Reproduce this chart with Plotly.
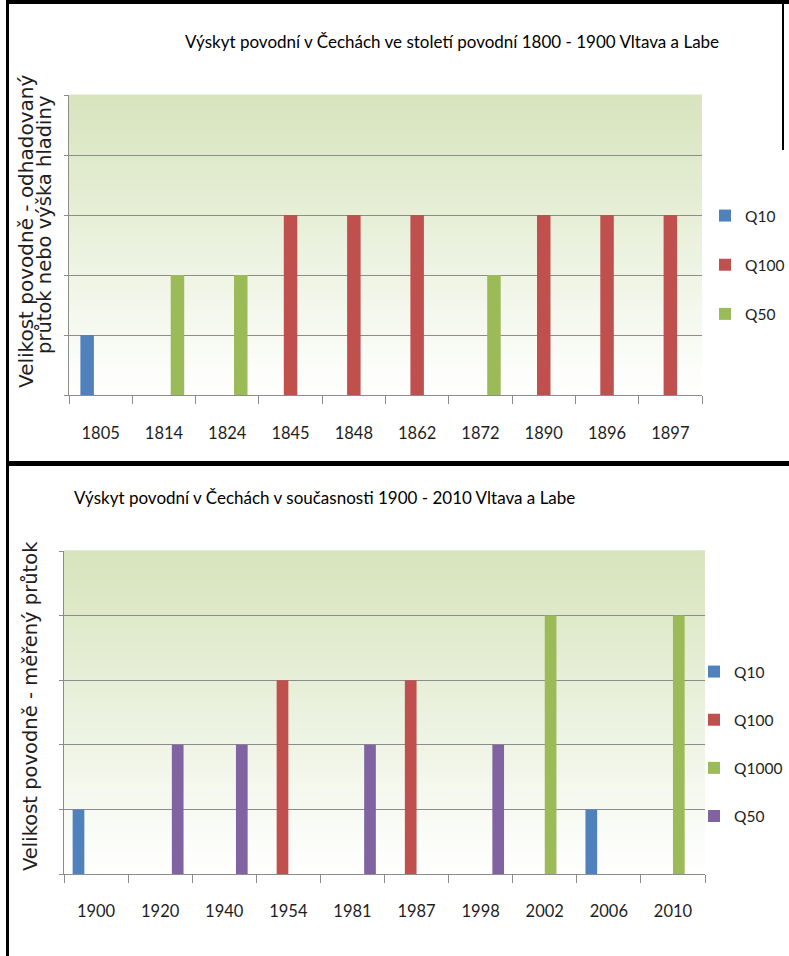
import plotly.graph_objects as go

W, H = 789, 956

# ---------------- data ----------------
years_1800 = ["1805", "1814", "1824", "1845", "1848", "1862", "1872", "1890", "1896", "1897"]
q10_1800 = [1, None, None, None, None, None, None, None, None, None]
q100_1800 = [None, None, None, 3, 3, 3, None, 3, 3, 3]
q50_1800 = [None, 2, 2, None, None, None, 2, None, None, None]

years_1900 = ["1900", "1920", "1940", "1954", "1981", "1987", "1998", "2002", "2006", "2010"]
q10_1900 = [1, None, None, None, None, None, None, None, 1, None]
q100_1900 = [None, None, None, 3, None, 3, None, None, None, None]
q1000_1900 = [None, None, None, None, None, None, None, 4, None, 4]
q50_1900 = [None, 2, 2, None, 2, None, 2, None, None, None]

title_top = "Výskyt povodní v Čechách ve století povodní 1800 - 1900 Vltava a Labe"
title_bottom = "Výskyt povodní v Čechách v současnosti 1900 - 2010 Vltava a Labe"
ytitle_top_1 = "Velikost povodně - odhadovaný"
ytitle_top_2 = "průtok nebo výška hladiny"
ytitle_bottom = "Velikost povodně - měřený průtok"

# ---------------- styles ----------------
C_Q10 = "#4f81bd"
C_Q100 = "#c0504d"
C_GREEN = "#9bbb59"
C_PURPLE = "#8064a2"
GRID = "#8c8c8c"
SANS = "Lato, Liberation Sans, Arial, sans-serif"
WIDE = "DejaVu Sans, Verdana, sans-serif"
TXT = "#1e1e1e"


def px_x(x):
    return x / W


def px_y(y):
    return 1 - y / H


fig = go.Figure()

# top chart bars
w1 = 0.2133
top_series = [("Q10", q10_1800, C_Q10, -0.32), ("Q100", q100_1800, C_Q100, -0.1067), ("Q50", q50_1800, C_GREEN, 0.1067)]
for name, vals, col, off in top_series:
    fig.add_trace(go.Bar(x=years_1800, y=vals, name=name, marker_color=col, marker_line_width=0,
                         width=w1, offset=off, xaxis="x", yaxis="y", legend="legend",
                         legendgroup="t" + name))

w2 = 0.1825
bottom_series = [("Q10", q10_1900, C_Q10, -0.365), ("Q100", q100_1900, C_Q100, -0.1825),
                 ("Q1000", q1000_1900, C_GREEN, 0.0), ("Q50", q50_1900, C_PURPLE, 0.1825)]
for name, vals, col, off in bottom_series:
    fig.add_trace(go.Bar(x=years_1900, y=vals, name=name, marker_color=col, marker_line_width=0,
                         width=w2, offset=off, xaxis="x2", yaxis="y2", legend="legend2",
                         legendgroup="b" + name))

xcommon = dict(type="category", showgrid=False, showline=True, linecolor=GRID, linewidth=1,
               ticks="outside", tickson="boundaries", ticklen=8, tickcolor=GRID, tickwidth=1,
               tickfont=dict(family=SANS, size=16.5, color=TXT), fixedrange=True)
ycommon = dict(range=[0, 5], dtick=1, tick0=0, showticklabels=False, showgrid=True, gridcolor=GRID,
               gridwidth=1, showline=True, linecolor=GRID, linewidth=1, ticks="outside", ticklen=4,
               tickcolor=GRID, zeroline=False, fixedrange=True)

fig.update_layout(
    width=W, height=H, autosize=False,
    margin=dict(l=0, r=0, t=0, b=0, autoexpand=False),
    paper_bgcolor="white", plot_bgcolor="rgba(0,0,0,0)",
    showlegend=True,
    xaxis=dict(domain=[px_x(69), px_x(702)], anchor="y", ticklabelstandoff=23, **xcommon),
    yaxis=dict(domain=[px_y(395), px_y(95)], anchor="x", **ycommon),
    xaxis2=dict(domain=[px_x(64), px_x(705)], anchor="y2", ticklabelstandoff=22, **xcommon),
    yaxis2=dict(domain=[px_y(874), px_y(551)], anchor="x2", **ycommon),
    legend=dict(x=px_x(705), y=px_y(199), xanchor="left", yanchor="top",
                font=dict(family=SANS, size=15.5, color=TXT), tracegroupgap=26,
                bgcolor="rgba(0,0,0,0)", itemclick=False, itemdoubleclick=False),
    legend2=dict(x=px_x(694), y=px_y(655), xanchor="left", yanchor="top",
                 font=dict(family=SANS, size=15.5, color=TXT), tracegroupgap=25,
                 bgcolor="rgba(0,0,0,0)", itemclick=False, itemdoubleclick=False),
)

# gradient plot backgrounds
N = 60
top_rgb = (215, 228, 189)
for xr, yr in (("x domain", "y domain"), ("x2 domain", "y2 domain")):
    for i in range(N):
        t = (i + 0.5) / N  # 0 bottom -> 1 top
        c = tuple(round(255 + (tc - 255) * t) for tc in top_rgb)
        fig.add_shape(type="rect", xref=xr, yref=yr, x0=0, x1=1, y0=i / N, y1=(i + 1) / N + 0.002,
                      fillcolor="rgb(%d,%d,%d)" % c, line_width=0, layer="below")

# frame lines
frame = [
    (6, 0, 789, 4),      # top border
    (6, 461, 789, 466),  # separator
    (6, 0, 9, 956),      # left border
    (782, 0, 784, 150),  # right border (top part)
]
for x0, y0, x1, y1 in frame:
    fig.add_shape(type="rect", xref="paper", yref="paper", x0=px_x(x0), x1=px_x(x1),
                  y0=px_y(y1), y1=px_y(y0), fillcolor="black", line_width=0, layer="above")

# titles
fig.add_annotation(text=title_top, xref="paper", yref="paper", x=px_x(452), y=px_y(42),
                   xanchor="center", yanchor="middle", showarrow=False,
                   font=dict(family=SANS, size=17, color="black"))
fig.add_annotation(text=title_bottom, xref="paper", yref="paper", x=px_x(72), y=px_y(497),
                   xanchor="left", yanchor="middle", showarrow=False,
                   font=dict(family=SANS, size=17, color="black"))

# y-axis titles
for txt, cx, cy, fs in ((ytitle_top_1, 26, 232, 20), (ytitle_top_2, 45, 225, 19.5),
                        (ytitle_bottom, 30, 706, 19.5)):
    fig.add_annotation(text=txt, xref="paper", yref="paper", x=px_x(cx), y=px_y(cy),
                       xanchor="center", yanchor="middle", textangle=-90, showarrow=False,
                       font=dict(family=WIDE, size=fs, color=TXT))

post = ("document.documentElement.style.overflow='hidden';"
        "document.body.style.overflow='hidden';"
        "document.body.style.margin='0';document.body.style.padding='0';")
fig.write_html("out.html", config={"responsive": False, "displayModeBar": False}, post_script=post)
